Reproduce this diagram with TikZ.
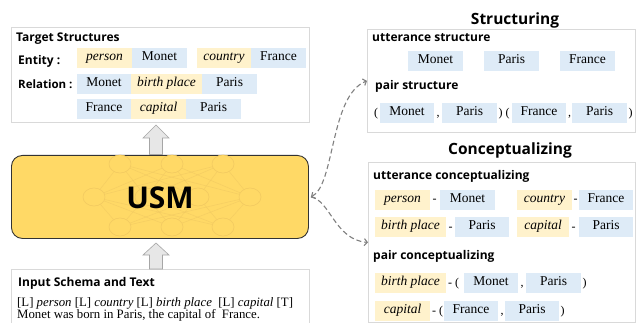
\documentclass[tikz,border=0pt]{standalone}
\usepackage{fontspec}
\setmainfont{Liberation Serif}
\newfontfamily\hf{Open Sans}
\usetikzlibrary{arrows.meta,calc}
\definecolor{cy}{HTML}{FFF2CC}
\definecolor{cbl}{HTML}{DEEBF7}
\definecolor{usmfill}{HTML}{FFD966}
\definecolor{boxline}{HTML}{D9D9D9}
\definecolor{nnline}{HTML}{EDC560}
\definecolor{arrgray}{HTML}{A6A6A6}
\definecolor{arrfill}{HTML}{E7E7E7}
\definecolor{dashgray}{HTML}{808080}
\begin{document}
\begin{tikzpicture}[x=1pt,y=-1pt,
  chip/.style={minimum height=20pt, inner sep=0pt, text height=0.68em, text depth=0.2em, font=\fontsize{13.5}{15}\selectfont},
  yc/.style={chip, fill=cy, minimum width=#1pt},
  bc/.style={chip, fill=cbl, minimum width=#1pt},
  head/.style={anchor=west, inner sep=0pt, font=\hf\bfseries\fontsize{12}{14}\selectfont},
  ttl/.style={inner sep=0pt, font=\hf\bfseries\fontsize{15.5}{18}\selectfont},
  punct/.style={inner sep=0pt, font=\fontsize{12}{14}\selectfont},
  intext/.style={anchor=west, inner sep=0pt, font=\fontsize{12.8}{15}\selectfont},
  panel/.style={draw=boxline, line width=0.8pt, fill=white, anchor=north west, inner sep=0pt},
  blockarrow/.style={draw=arrgray, fill=arrfill, line width=0.6pt, line join=miter},
  dashcurve/.style={draw=dashgray, line width=1.1pt, dash pattern=on 5pt off 3pt}
]
\clip (0,0) rectangle (636,323);
\fill[white] (0,0) rectangle (636,323);

% ---------- Target structures ----------
\node[panel, minimum width=298pt, minimum height=95pt] (target) at (11,27) {};
\node[head] (tlab) at (16,39) {Target Structures};
\node[head] (elab) at (18,61) {Entity :};
\node[head, font=\hf\bfseries\fontsize{11.5}{14}\selectfont] (rlab) at (18,84) {Relation :};
\node[yc=55] (t1) at (104.5,58) {\textit{person}};
\node[bc=55] (t2) at (159.5,58) {Monet};
\node[yc=54] (t3) at (224,58) {\textit{country}};
\node[bc=55] (t4) at (278.5,58) {France};
\node[bc=54] (t5) at (104,84) {Monet};
\node[yc=71] (t6) at (166.5,84) {\textit{birth place}};
\node[bc=55] (t7) at (229.5,84) {Paris};
\node[bc=54] (t8) at (104,109) {France};
\node[yc=55] (t9) at (158.5,109) {\textit{capital}};
\node[bc=55] (t10) at (213.5,109) {Paris};

% ---------- USM ----------
\node[draw=black!80, line width=0.9pt, fill=usmfill, rounded corners=11pt, minimum width=297pt, minimum height=83pt, anchor=north west, inner sep=0pt] (usm) at (11,155) {};
\begin{scope}[nnline, line width=0.6pt, opacity=0.5]
  \foreach \a in {120,172,223}{
    \foreach \b in {94,146,198,250}{
      \draw (\a,164) -- (\b,197);
      \draw (\b,197) -- (\a,227);
    }
  }
\end{scope}
\begin{scope}[line width=0.6pt]
  \foreach \a in {120,172,223}{
    \draw[draw=nnline!75!usmfill, fill=usmfill] (\a,164) ellipse [x radius=11pt, y radius=9pt];
    \draw[draw=nnline!75!usmfill, fill=usmfill] (\a,227) ellipse [x radius=11pt, y radius=9pt];
  }
  \foreach \b in {94,146,198,250}{
    \draw[draw=nnline!75!usmfill, fill=usmfill] (\b,197) ellipse [x radius=11pt, y radius=9pt];
  }
\end{scope}
\node[inner sep=0pt, font=\hf\bfseries\fontsize{30}{34}\selectfont] (usmtext) at (160,198) {USM};

% ---------- Input ----------
\node[panel, minimum width=298pt, minimum height=70pt] (input) at (11,269) {};
\node[head] (ilab) at (18,283) {Input Schema and Text};
\node[intext] (in1) at (17,303) {[L] \textit{person} [L] \textit{country} [L] \textit{birth place}\ \ [L] \textit{capital} [T]};
\node[intext] (in2) at (17,315.5) {Monet was born in Paris, the capital of\ \ France.};

% ---------- block arrows ----------
\draw[blockarrow] (156,125) -- (169,138) -- (162.5,138) -- (162.5,154.5) -- (149.5,154.5) -- (149.5,138) -- (143,138) -- cycle;
\draw[blockarrow] (156,243) -- (169,255) -- (162.5,255) -- (162.5,269) -- (149.5,269) -- (149.5,255) -- (143,255) -- cycle;

% ---------- Structuring ----------
\node[ttl] (stitle) at (515,20) {Structuring};
\node[panel, minimum width=268pt, minimum height=103pt] (struct) at (367,29) {};
\node[head] (ulab) at (372,38) {utterance structure};
\node[bc=55] (s1) at (435.5,61) {Monet};
\node[bc=55] (s2) at (511.5,61) {Paris};
\node[bc=55] (s3) at (587.5,61) {France};
\node[head] (plab) at (375,86) {pair structure};
\node[punct] (sp1) at (376,114) {(};
\node[bc=54] (s4) at (407,113) {Monet};
\node[punct] (sp2) at (438,117) {,};
\node[bc=55] (s5) at (469.5,113) {Paris};
\node[punct] (sp3) at (500.5,114) {)};
\node[punct] (sp4) at (507.5,114) {(};
\node[bc=54] (s6) at (539,113) {France};
\node[punct] (sp5) at (569.5,117) {,};
\node[bc=55] (s7) at (599.5,113) {Paris};
\node[punct] (sp6) at (630.5,114) {)};

% ---------- Conceptualizing ----------
\node[ttl] (ctitle) at (510,150) {Conceptualizing};
\node[panel, minimum width=267pt, minimum height=160pt] (concept) at (368,162) {};
\node[head] (uclab) at (373,176) {utterance conceptualizing};
\node[yc=55] (c1) at (402.5,200) {\textit{person}};
\node[punct] (cd1) at (434.5,201) {-};
\node[bc=55] (c2) at (467.5,200) {Monet};
\node[yc=55] (c3) at (544.5,200) {\textit{country}};
\node[punct] (cd2) at (575.5,201) {-};
\node[bc=54] (c4) at (606,200) {France};
\node[yc=71] (c5) at (410.5,227) {\textit{birth place}};
\node[punct] (cd3) at (450.5,229) {-};
\node[bc=54] (c6) at (482,227) {Paris};
\node[yc=52] (c7) at (543,227) {\textit{capital}};
\node[punct] (cd4) at (573.5,229) {-};
\node[bc=54] (c8) at (606,227) {Paris};
\node[head] (pclab) at (373,256) {pair conceptualizing};
\node[yc=71] (c9) at (410.5,283) {\textit{birth place}};
\node[punct, anchor=west] (cd5) at (448,284) {-\ (};
\node[bc=54] (c10) at (491,283) {Monet};
\node[punct] (cd6) at (522,287) {,};
\node[bc=55] (c11) at (553.5,283) {Paris};
\node[punct] (cd7) at (584.5,284) {)};
\node[yc=55] (c12) at (402.5,311) {\textit{capital}};
\node[punct, anchor=west] (cd8) at (432,312) {-\ (};
\node[bc=54] (c13) at (471,311) {France};
\node[punct] (cd9) at (502,315) {,};
\node[bc=54] (c14) at (532,311) {Paris};
\node[punct] (cd10) at (562.5,312) {)};

% ---------- dashed connectors ----------
\draw[dashcurve, {Straight Barb[length=3pt,width=7pt]}-{Straight Barb[length=3pt,width=7pt]}] ([xshift=2pt]usm.east) .. controls (335,185) and (330,95) .. (struct.west);
\draw[dashcurve, -{Straight Barb[length=3pt,width=7pt]}] ([xshift=2pt]usm.east) .. controls (330,200) and (335,240) .. (concept.west);
\end{tikzpicture}
\end{document}
